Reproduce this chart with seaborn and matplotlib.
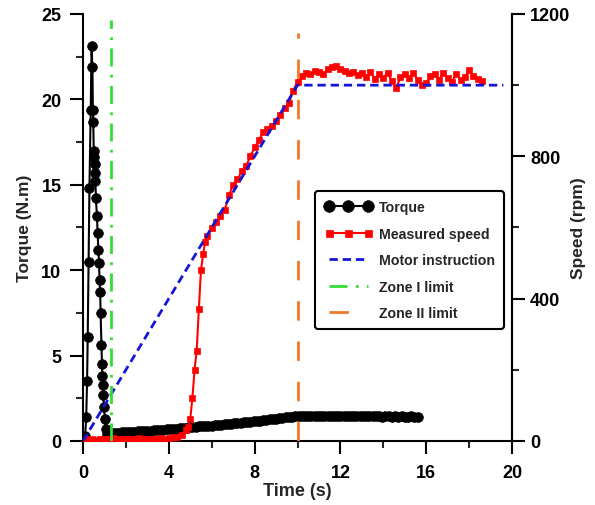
import numpy as np
import pandas as pd
import matplotlib
matplotlib.use('Agg')
import matplotlib.pyplot as plt
import seaborn as sns
from matplotlib.ticker import MultipleLocator

# ---------------- data ----------------
torque_t = [0.0, 0.1, 0.15, 0.19, 0.22, 0.26, 0.3, 0.36, 0.4, 0.44, 0.46, 0.48,
            0.5, 0.52, 0.54, 0.55, 0.58, 0.6, 0.65, 0.68, 0.72, 0.75, 0.77, 0.8,
            0.82, 0.86, 0.88, 0.9, 0.92, 0.94, 0.98, 1.02, 1.06, 1.1,
            1.2, 1.35, 1.5, 1.65, 1.8, 1.95, 2.1, 2.25, 2.4, 2.55, 2.7, 2.85,
            3.0, 3.15, 3.3, 3.45, 3.6, 3.75, 3.9, 4.05, 4.2, 4.35, 4.5, 4.65,
            4.8, 4.95, 5.1, 5.25, 5.4, 5.55, 5.7, 5.85, 6.0, 6.15, 6.3, 6.45,
            6.6, 6.75, 6.9, 7.05, 7.2, 7.35, 7.5, 7.65, 7.8, 7.95, 8.1, 8.25,
            8.4, 8.55, 8.7, 8.85, 9.0, 9.15, 9.3, 9.45, 9.6, 9.75, 9.9, 10.05,
            10.2, 10.35, 10.5, 10.65, 10.8, 10.95, 11.1, 11.25, 11.4, 11.55, 11.7, 11.85,
            12.0, 12.15, 12.3, 12.45, 12.6, 12.75, 12.9, 13.05, 13.2, 13.35, 13.5, 13.65,
            13.8, 13.95, 14.1, 14.25, 14.4, 14.55, 14.7, 14.85, 15.0, 15.15, 15.3, 15.45,
            15.6]
torque_v = [0.0, 0.3, 1.4, 3.5, 6.1, 10.5, 14.8, 19.4, 23.1, 21.9, 19.4, 18.7,
            17.0, 16.6, 16.2, 15.7, 15.2, 14.2, 13.2, 12.2, 11.2, 10.4, 9.4, 8.7,
            7.5, 5.6, 4.5, 3.8, 3.3, 2.7, 2.0, 1.3, 0.7, 0.4,
            0.45, 0.46, 0.48, 0.49, 0.50, 0.51, 0.52, 0.54, 0.55, 0.56, 0.57, 0.59,
            0.60, 0.61, 0.62, 0.64, 0.66, 0.67, 0.68, 0.70, 0.72, 0.73, 0.75, 0.76,
            0.78, 0.80, 0.82, 0.83, 0.85, 0.86, 0.88, 0.89, 0.90, 0.92, 0.94, 0.96,
            0.98, 1.00, 1.02, 1.03, 1.05, 1.08, 1.10, 1.11, 1.13, 1.15, 1.17, 1.20,
            1.22, 1.25, 1.27, 1.29, 1.31, 1.34, 1.36, 1.38, 1.40, 1.42, 1.44, 1.45,
            1.45, 1.44, 1.45, 1.45, 1.44, 1.45, 1.45, 1.44, 1.45, 1.45, 1.44, 1.45,
            1.45, 1.44, 1.45, 1.44, 1.45, 1.44, 1.44, 1.45, 1.44, 1.44, 1.45, 1.44,
            1.44, 1.43, 1.44, 1.44, 1.43, 1.44, 1.43, 1.44, 1.43, 1.43, 1.44, 1.43,
            1.43]

speed_t = [0.0, 0.2, 0.4, 0.6, 0.8, 1.0, 1.2, 1.4, 1.6, 1.8, 2.0, 2.2, 2.4, 2.6,
           2.8, 3.0, 3.2, 3.4, 3.6, 3.8, 4.0, 4.2, 4.4, 4.6, 4.8, 4.9, 5.0, 5.1,
           5.2, 5.3, 5.4, 5.5, 5.6, 5.7, 5.8, 6.0, 6.2, 6.4, 6.6, 6.8, 7.0, 7.2,
           7.4, 7.6, 7.8, 8.0, 8.2, 8.4, 8.6, 8.8, 9.0, 9.2, 9.4, 9.6, 9.8, 10.0,
           10.2, 10.4, 10.6, 10.8, 11.0, 11.2, 11.4, 11.6, 11.8, 12.0, 12.2, 12.4,
           12.6, 12.8, 13.0, 13.2, 13.4, 13.6, 13.8, 14.0, 14.2, 14.4, 14.6, 14.8,
           15.0, 15.2, 15.4, 15.6, 15.8, 16.0, 16.2, 16.4, 16.6, 16.8, 17.0, 17.2,
           17.4, 17.6, 17.8, 18.0, 18.2, 18.4, 18.6]
speed_v = [0, 5, 6, 4, 7, 5, 6, 8, 5, 6, 7, 5, 6, 8,
           6, 7, 5, 6, 8, 7, 9, 10, 12, 18, 30, 38, 62, 120,
           200, 254, 370, 480, 525, 560, 575, 598, 615, 632, 648, 690, 720, 735,
           758, 772, 800, 825, 845, 868, 878, 885, 898, 915, 935, 950, 985, 1010,
           1025, 1035, 1030, 1040, 1038, 1030, 1045, 1050, 1053, 1045, 1040, 1035,
           1038, 1028, 1035, 1022, 1037, 1018, 1030, 1020, 1035, 1012, 992, 1022,
           1030, 1020, 1035, 1015, 1000, 1005, 1025, 1030, 1015, 1035, 1020, 1010,
           1030, 1015, 1022, 1042, 1025, 1018, 1012]

instr_t = [0.0, 10.0, 19.6]
instr_v = [0, 1000, 1000]

zone1_t = 1.3
zone2_t = 10.0

labels = ['Torque', 'Measured speed', 'Motor instruction', 'Zone I limit', 'Zone II limit']

# ---------------- style ----------------
sns.set_theme(style='ticks')
plt.rcParams['font.family'] = ['Liberation Sans', 'DejaVu Sans']
plt.rcParams['font.weight'] = 'bold'
plt.rcParams['axes.labelweight'] = 'bold'
plt.rcParams['lines.scale_dashes'] = False

fig = plt.figure(figsize=(5.95, 5.06), dpi=100)
ax = fig.add_axes([83/595, 1-442/506, 429/595, 427/506])
ax2 = ax.twinx()

sns.lineplot(x=torque_t, y=torque_v, ax=ax, color='black', marker='o', markersize=7,
             markeredgecolor='black', markeredgewidth=0.5, linewidth=1.5,
             sort=False, estimator=None, legend=False)
sns.lineplot(x=speed_t, y=speed_v, ax=ax2, color='#ff0000', marker='s', markersize=4.2,
             markeredgecolor='#ff0000', markeredgewidth=0.5, linewidth=1.5,
             sort=False, estimator=None, legend=False)
sns.lineplot(x=instr_t, y=instr_v, ax=ax2, color='#1515d8', linewidth=2,
             sort=False, estimator=None, legend=False, dashes=False)
ax2.lines[-1].set_dashes((6, 3.5))
ln_z1 = ax2.axvline(zone1_t, ymin=0, ymax=0.985, color='#33dd33', linewidth=2)
ln_z1.set_dashes((13, 6, 2, 6))
ln_z2 = ax2.axvline(zone2_t, ymin=0, ymax=0.955, color='#f07a2a', linewidth=2)
ln_z2.set_dashes((14, 15))

ax.set_xlim(0, 20)
ax.set_ylim(0, 25)
ax2.set_ylim(0, 1200)
ax.xaxis.set_major_locator(MultipleLocator(4))
ax.xaxis.set_minor_locator(MultipleLocator(2))
ax.yaxis.set_major_locator(MultipleLocator(5))
ax.yaxis.set_minor_locator(MultipleLocator(2.5))
ax2.yaxis.set_major_locator(MultipleLocator(400))
ax2.yaxis.set_minor_locator(MultipleLocator(200))

for a in (ax, ax2):
    a.spines['top'].set_visible(False)
    for s in a.spines.values():
        s.set_linewidth(1.5)
        s.set_color('black')
    a.tick_params(which='major', direction='out', length=9.5, width=1.5, labelsize=13, colors='black')
    a.tick_params(which='minor', direction='out', length=5, width=1.5)
ax.tick_params(axis='x', which='major', pad=7)
ax.tick_params(axis='y', which='major', pad=6)
ax2.spines['left'].set_visible(False)
ax2.spines['bottom'].set_visible(False)

ax.set_xlabel('Time (s)', fontsize=13, fontweight='bold', labelpad=1)
ax.set_ylabel('Torque (N.m)', fontsize=12.5, fontweight='bold', labelpad=7)
ax2.set_ylabel('Speed (rpm)', fontsize=12.5, fontweight='bold', rotation=90)
ax2.yaxis.set_label_coords(1.137, 0.5)
for lab in ax.get_xticklabels() + ax.get_yticklabels() + ax2.get_yticklabels():
    lab.set_fontweight('bold')

handles = [ax.lines[0], ax2.lines[0], ax2.lines[1], ln_z1, ln_z2]
leg = ax2.legend(handles, labels, loc='upper left', bbox_to_anchor=(0.541, 0.5855),
                 borderaxespad=0, frameon=True, fancybox=True, numpoints=3,
                 markerscale=1.2, handlelength=3.4, handletextpad=0.45,
                 labelspacing=0.88, borderpad=0.65,
                 prop={'family': ['Liberation Sans', 'DejaVu Sans'],
                       'weight': 'bold', 'size': 10.2})
leg.get_frame().set_edgecolor('black')
leg.get_frame().set_linewidth(1.5)
leg.get_frame().set_alpha(1)

fig.savefig('out.png', dpi=100)
